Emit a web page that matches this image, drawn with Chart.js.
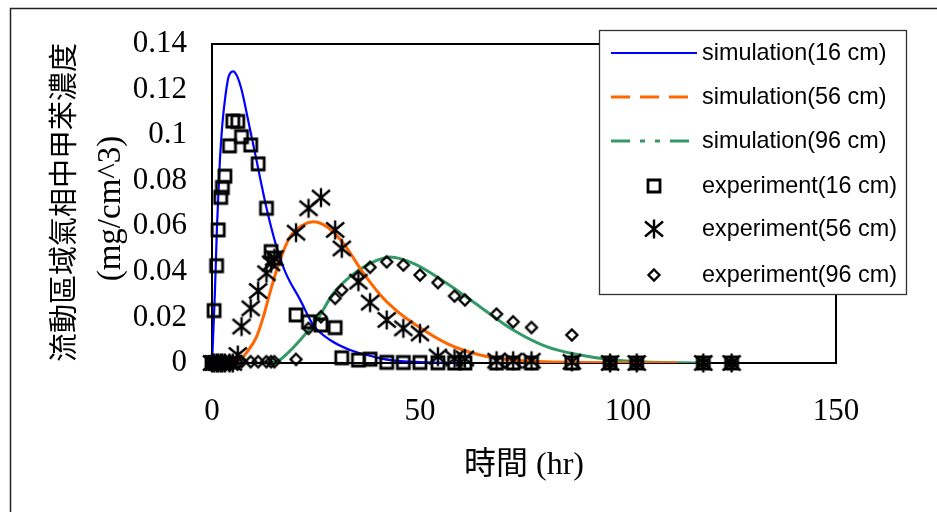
<!DOCTYPE html>
<html>
<head>
<meta charset="utf-8">
<script src="https://cdn.jsdelivr.net/npm/chart.js@4.4.0/dist/chart.umd.min.js"></script>
<style>
  html, body { margin: 0; padding: 0; background: #fff; }
  #wrap { width: 937px; height: 512px; }
</style>
</head>
<body>
<div id="wrap"><canvas id="conc" width="937" height="512"></canvas></div>
<script>
// simulated gas-phase toluene, three sampling depths (hr, mg/cm^3)
const simT16 = [0, 0.7, 1.2, 1.9, 2.5, 3.1, 3.9, 4.5, 5.1, 6.0, 7.1, 8.3, 9.5, 10.7, 11.7, 13.1, 15.5, 17.6, 21.2, 24.4, 28.4, 33.2, 38.8, 42.8, 50, 60];
const simC16 = [0, 0.031, 0.06, 0.089, 0.105, 0.1154, 0.125, 0.1275, 0.128, 0.126, 0.12, 0.11, 0.0994, 0.089, 0.080, 0.068, 0.051, 0.040, 0.0277, 0.0165, 0.0101, 0.0057, 0.0028, 0.0013, 0.0004, 0];

const simT56 = [5, 6.7, 8.5, 10.7, 12.3, 13.9, 16.3, 18.8, 21.9, 24.4, 27.6, 31.6, 36.4, 40.4, 44, 48.4, 56.4, 64.4, 72.4, 80, 90, 100, 112];
const simC56 = [0, 0.0013, 0.005, 0.0115, 0.02, 0.0307, 0.045, 0.0554, 0.0606, 0.062, 0.0598, 0.0525, 0.0394, 0.030, 0.0235, 0.0174, 0.0086, 0.0035, 0.0013, 0.0005, 0.0002, 0.0001, 0];

const simT96 = [12, 15.5, 18, 21.2, 25.2, 29.2, 33.2, 38, 42.8, 48.4, 56.4, 64.4, 72.4, 80.4, 88.5, 96.4, 104, 112, 120];
const simC96 = [0, 0.0006, 0.004, 0.0101, 0.0189, 0.0306, 0.0379, 0.0437, 0.0465, 0.0437, 0.035, 0.0247, 0.0145, 0.0072, 0.0035, 0.0013, 0.0004, 0.0001, 0];

// measured samples, same sampling times for all depths
const expTime = [0, 0.5, 1.1, 1.5, 2.1, 2.5, 3.1, 4.2, 5.0, 6.2, 7.1, 9.3, 11.1, 13.1, 14.2, 15.0, 20.2, 23.2, 26.2, 29.6, 31.2, 35.2, 38.0, 42.0, 46.0, 50.0, 54.3, 58.3, 60.8, 68.4, 72.4, 76.8, 86.5, 95.7, 102.1, 118.1, 124.9];
const exp16 = [0, 0.023, 0.0427, 0.0584, 0.0727, 0.077, 0.082, 0.0953, 0.1062, 0.106, 0.0993, 0.0957, 0.0874, 0.0679, 0.0489, 0.046, 0.0211, 0.0181, 0.0167, 0.0155, 0.0023, 0.0013, 0.0017, 0.0003, 0.0002, 0.0002, 0.0001, 0, 0, 0, 0, 0, 0, 0, 0, 0, 0];
const exp56 = [0, 0, 0, 0, 0, 0, 0, 0, 0, 0.0035, 0.016, 0.024, 0.0316, 0.0394, 0.0437, 0.046, 0.0572, 0.0679, 0.0726, 0.0584, 0.0503, 0.0357, 0.0265, 0.0189, 0.0152, 0.013, 0.0028, 0.002, 0.002, 0.001, 0.001, 0.001, 0.0005, 0, 0, 0, 0];
const exp96 = [0, 0, 0, 0, 0, 0, 0, 0, 0, 0, 0.0006, 0.0006, 0.0006, 0.0006, 0.0006, 0.0006, 0.0016, 0.0152, 0.0203, 0.0284, 0.032, 0.0379, 0.042, 0.0444, 0.043, 0.0386, 0.0353, 0.0294, 0.0277, 0.0215, 0.0181, 0.0156, 0.0123, 0, 0, 0, 0];

const seriesLabels = ['simulation(16 cm)', 'simulation(56 cm)', 'simulation(96 cm)',
                      'experiment(16 cm)', 'experiment(56 cm)', 'experiment(96 cm)'];
const yTicks = [0, 0.02, 0.04, 0.06, 0.08, 0.1, 0.12, 0.14];

const pts = (xs, ys) => xs.map((x, i) => ({ x: x, y: ys[i] }));

// hollow black markers, drawn once into small canvases
function marker(kind) {
    const c = document.createElement('canvas');
    c.width = c.height = 24;
    const g = c.getContext('2d');
    g.translate(12, 12);
    g.strokeStyle = '#000';
    g.beginPath();
    if (kind === 'square') {
        g.lineWidth = 2.8;
        g.rect(-6, -6, 12, 12);
    } else if (kind === 'star') {
        g.lineWidth = 2.4;
        g.moveTo(0, -9.5); g.lineTo(0, 9.5);
        g.moveTo(-9, -7.5); g.lineTo(9, 7.5);
        g.moveTo(-9, 7.5); g.lineTo(9, -7.5);
    } else {
        g.lineWidth = 2.3;
        g.moveTo(0, -5.5); g.lineTo(5.5, 0); g.lineTo(0, 5.5); g.lineTo(-5.5, 0); g.closePath();
    }
    g.stroke();
    return c;
}

function simLine(i, xs, ys, color, width) {
    return {
        label: seriesLabels[i], data: pts(xs, ys), showLine: true, pointRadius: 0,
        borderColor: color, borderWidth: width, cubicInterpolationMode: 'monotone', order: 2
    };
}
function expPoints(i, ys, kind) {
    return {
        label: seriesLabels[i], data: pts(expTime, ys), showLine: false,
        pointStyle: marker(kind), pointRadius: 8, clip: false, order: 1
    };
}

// legend sample dashes (the plotted curves stay solid)
const legendDash = [[], [19, 10], [19, 10, 5, 10, 5, 10]];

const frame = {
    id: 'frame',
    beforeDatasetsDraw(chart) {
        const { ctx, chartArea: a } = chart;
        ctx.save();
        ctx.strokeStyle = '#000';
        ctx.lineWidth = 2;
        ctx.strokeRect(a.left, a.top, a.right - a.left, a.bottom - a.top);
        ctx.restore();
    },
    afterDraw(chart) {
        const { ctx, chartArea: a } = chart;
        ctx.save();
        // outer border
        ctx.strokeStyle = '#222';
        ctx.lineWidth = 1.5;
        ctx.beginPath();
        ctx.moveTo(10.5, 512); ctx.lineTo(10.5, 8.5); ctx.lineTo(937, 8.5);
        ctx.stroke();

        // axis titles
        ctx.fillStyle = '#000';
        ctx.textAlign = 'center';
        ctx.textBaseline = 'middle';
        ctx.font = "32px 'Liberation Serif', 'Noto Sans CJK TC'";
        ctx.fillText('時間 (hr)', (a.left + a.right) / 2, 466);
        const midY = (a.top + a.bottom) / 2;
        ctx.save();
        ctx.translate(63, midY - 1);
        ctx.rotate(-Math.PI / 2);
        ctx.font = "29px 'Noto Sans CJK TC'";
        ctx.fillText('流動區域氣相中甲苯濃度', 0, 0);
        ctx.restore();
        ctx.save();
        ctx.translate(111, midY + 5);
        ctx.rotate(-Math.PI / 2);
        ctx.font = "33px 'Liberation Serif'";
        ctx.fillText('(mg/cm^3)', 0, 0);
        ctx.restore();

        // legend box
        const bx = 599, by = 30, bw = 307, bh = 264;
        ctx.fillStyle = '#fff';
        ctx.fillRect(bx, by, bw, bh);
        ctx.strokeStyle = '#333';
        ctx.lineWidth = 1.3;
        ctx.strokeRect(bx + 0.5, by + 0.5, bw, bh);
        const rows = [53, 97, 141, 186, 229, 275];
        ctx.font = "23.4px 'Liberation Sans'";
        ctx.textAlign = 'left';
        chart.data.datasets.forEach((ds, i) => {
            const y = rows[i];
            if (ds.showLine) {
                ctx.save();
                ctx.strokeStyle = ds.borderColor;
                ctx.lineWidth = ds.borderWidth;
                ctx.setLineDash(legendDash[i]);
                ctx.beginPath();
                ctx.moveTo(611, y); ctx.lineTo(697, y);
                ctx.stroke();
                ctx.restore();
            } else {
                const m = ds.pointStyle;
                ctx.drawImage(m, 654 - m.width / 2, y - m.height / 2);
            }
            ctx.fillStyle = '#000';
            ctx.fillText(ds.label, 702, y + 1);
        });
        ctx.restore();
    }
};

new Chart(document.getElementById('conc'), {
    type: 'scatter',
    data: {
        datasets: [
            simLine(0, simT16, simC16, '#0000ff', 2.2),
            simLine(1, simT56, simC56, '#ff6600', 3),
            simLine(2, simT96, simC96, '#339966', 3),
            expPoints(3, exp16, 'square'),
            expPoints(4, exp56, 'star'),
            expPoints(5, exp96, 'diamond')
        ]
    },
    options: {
        responsive: false,
        animation: false,
        layout: { padding: { top: 44, right: 101, bottom: 0, left: 0 } },
        plugins: { legend: { display: false }, tooltip: { enabled: false } },
        scales: {
            x: {
                type: 'linear', min: 0, max: 150,
                ticks: { stepSize: 50, padding: 30, color: '#000', font: { family: 'Liberation Serif', size: 31 } },
                grid: { display: false, drawTicks: false },
                border: { display: false },
                afterFit: s => { s.height = 149; }
            },
            y: {
                type: 'linear', min: 0, max: 0.14,
                afterBuildTicks: s => { s.ticks = yTicks.map(v => ({ value: v })); },
                ticks: { padding: 25, color: '#000', font: { family: 'Liberation Serif', size: 31 },
                         callback: v => String(+v.toFixed(2)) },
                grid: { display: false, drawTicks: false },
                border: { display: false },
                afterFit: s => { s.width = 212; }
            }
        }
    },
    plugins: [frame]
});
</script>
</body>
</html>
